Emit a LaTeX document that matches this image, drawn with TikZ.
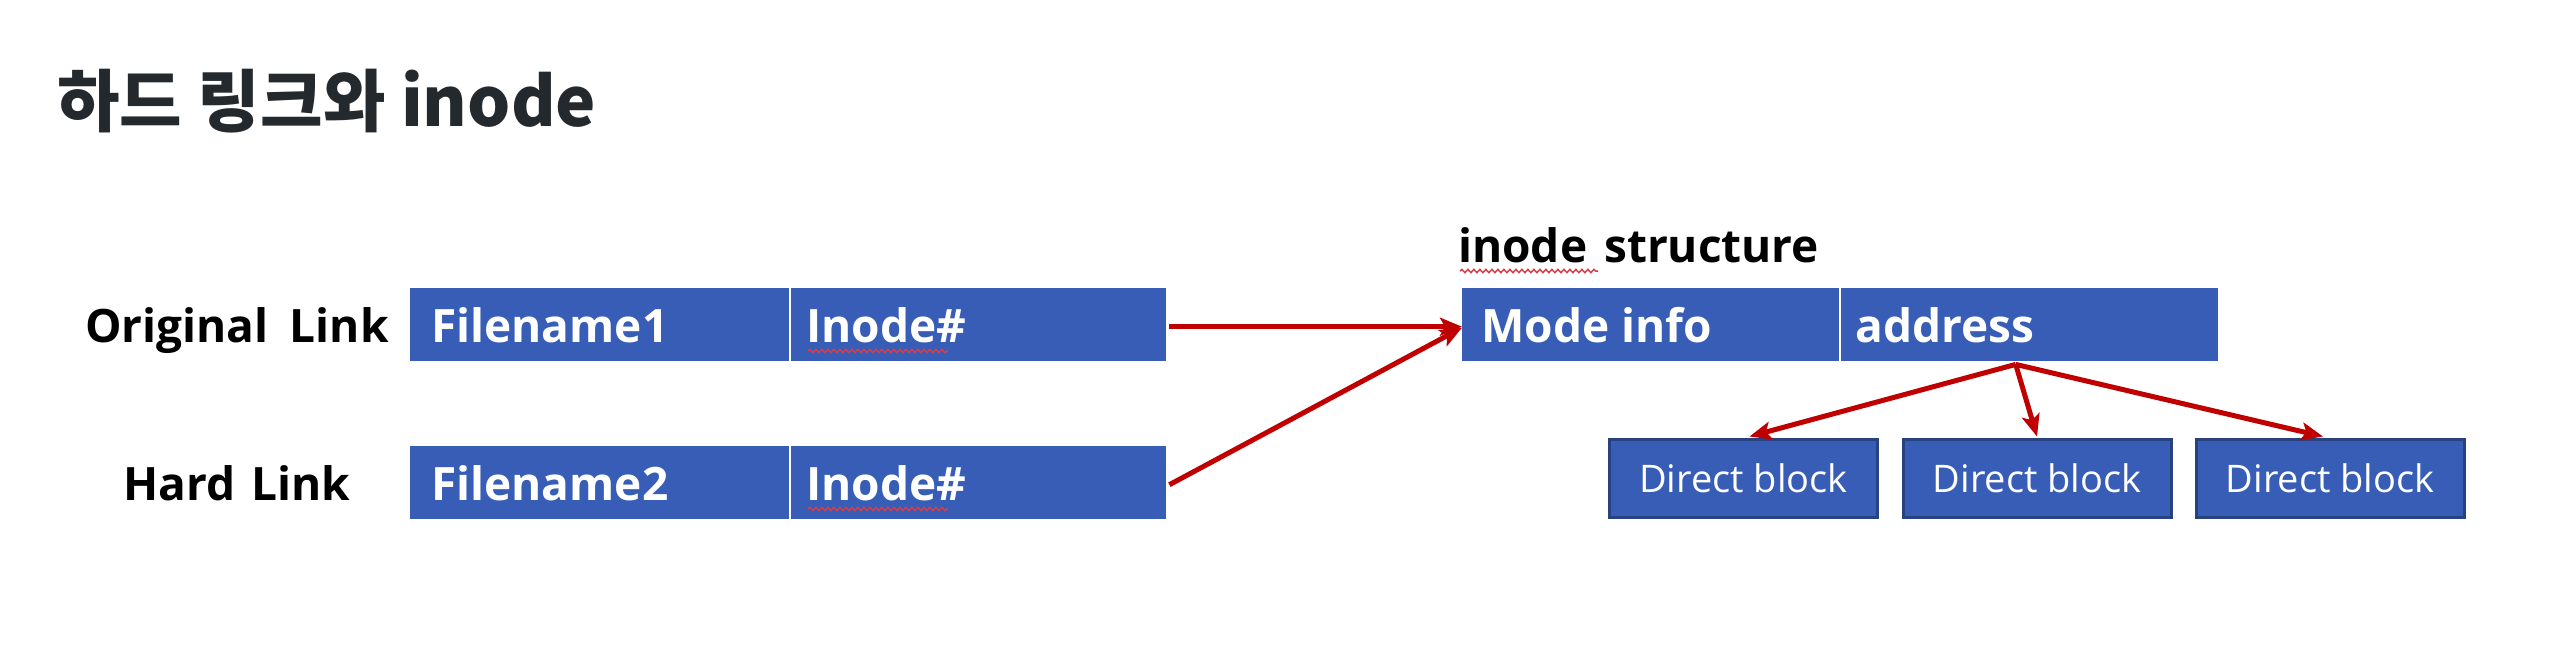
\documentclass[tikz,border=0pt]{standalone}
\usepackage{fontspec}
\setmainfont{Open Sans}
\newfontfamily\krfont{Noto Sans CJK KR}
\usetikzlibrary{arrows.meta,calc,decorations.pathmorphing}
\definecolor{boxblue}{RGB}{55,93,182}
\definecolor{boxedge}{RGB}{40,66,128}
\definecolor{arrowred}{RGB}{192,0,0}
\definecolor{titlegray}{HTML}{24292E}
\definecolor{squigred}{RGB}{220,60,70}
\begin{document}
\begin{tikzpicture}[x=1pt,y=-1pt,
  cell/.style={fill=boxblue, inner sep=0pt, anchor=north west, minimum height=73pt},
  celltext/.style={text=white, font=\fontsize{46}{52}\selectfont\bfseries, anchor=base west, inner sep=0pt},
  lbltext/.style={text=black, font=\fontsize{46}{52}\selectfont\bfseries, anchor=base west, inner sep=0pt},
  dblock/.style={fill=boxblue, draw=boxedge, line width=3pt, minimum width=268pt, minimum height=78pt, inner sep=0pt, text=white, font=\fontsize{38}{44}\selectfont},
  link/.style={draw=arrowred, line width=5pt, -{Stealth[length=22pt,width=18pt,inset=5pt]}},
  squiggle/.style={draw=squigred, line width=1.5pt, decorate, decoration={snake, amplitude=1.6pt, segment length=6pt}}
]
\useasboundingbox (0,0) rectangle (2568,657);

% title
\node[anchor=base west, inner sep=0pt, text=titlegray, font=\krfont\bfseries\fontsize{68}{72}\selectfont] (title) at (57,126) {하드 링크와 inode};

% left labels
\node[lbltext] (orig) at (85,342) {Original\hspace{21pt}Link};
\node[lbltext] (hard) at (123,500) {Hard\hspace{16pt}Link};

% row 1
\node[cell, minimum width=379pt] (fn1) at (410,288) {};
\node[cell, minimum width=375pt] (ino1) at (791,288) {};
\node[celltext] (tf1) at (431,342) {Filename1};
\node[celltext] (ti1) at (806,342) {Inode\#};

% row 2
\node[cell, minimum width=379pt] (fn2) at (410,446) {};
\node[cell, minimum width=375pt] (ino2) at (791,446) {};
\node[celltext] (tf2) at (431,500) {Filename2};
\node[celltext] (ti2) at (806,500) {Inode\#};

% inode structure
\node[lbltext] (struct) at (1458,262) {inode\hspace{17pt}structure};
\node[cell, minimum width=377pt] (mode) at (1462,288) {};
\node[cell, minimum width=377pt] (addr) at (1841,288) {};
\node[celltext] (tm) at (1481,342) {Mode info};
\node[celltext] (ta) at (1855,342) {address};

% direct blocks
\node[dblock] (d1) at (1743.5,478) {Direct block};
\node[dblock] (d2) at (2037,478) {Direct block};
\node[dblock] (d3) at (2330,478) {Direct block};

% spell-check underlines
\draw[squiggle] ($(ti1.base west)+(2,9)$) -- ($(ti1.base west)+(142,9)$);
\draw[squiggle] ($(ti2.base west)+(2,9)$) -- ($(ti2.base west)+(142,9)$);
\draw[squiggle] ($(struct.base west)+(2,9)$) -- ($(struct.base west)+(140,9)$);

% connectors
\draw[link] ($(ino1.east)+(3,2)$) -- ($(mode.west)+(0,2)$);
\draw[link] ($(ino2.east)+(3,2)$) -- ($(mode.west)+(0,3)$);
\coordinate (hub) at ($(addr.south)+(-14,3)$);
\draw[link] (hub) -- ($(d1.north)+(6,-1)$);
\draw[link] (hub) -- ($(d2.north)+(0,-1)$);
\draw[link] (hub) -- ($(d3.north)+(-7,-1)$);
\end{tikzpicture}
\end{document}
